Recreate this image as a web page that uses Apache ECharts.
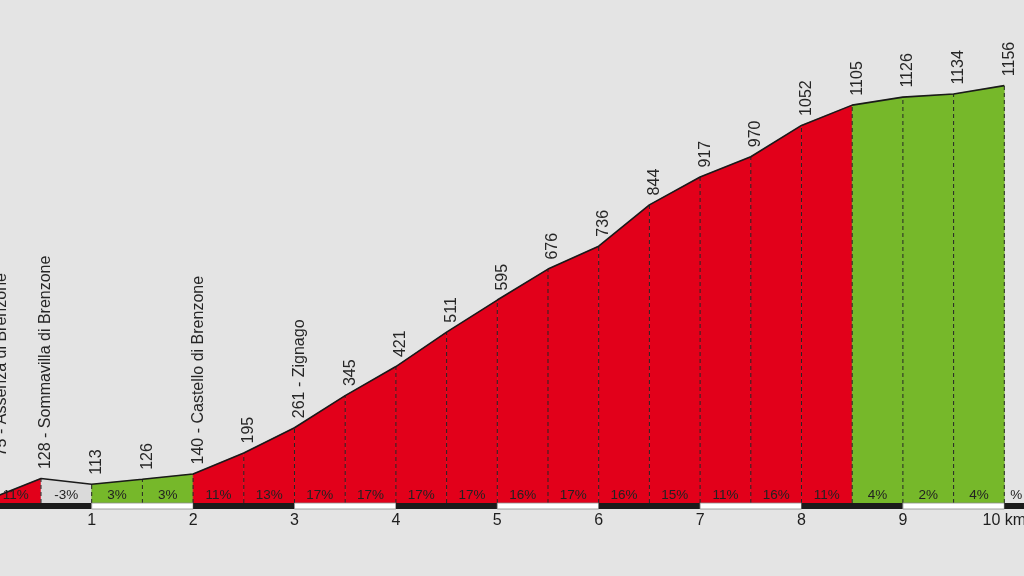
<!DOCTYPE html>
<html><head><meta charset="utf-8">
<script src="https://cdn.jsdelivr.net/npm/echarts@6/dist/echarts.min.js"></script>
<style>html,body{margin:0;padding:0;background:#e4e4e4;overflow:hidden}#c{width:1024px;height:576px}</style>
</head><body><div id="c"></div>
<script>
// ---- data ----
const distanceKm = [0,0.5,1,1.5,2,2.5,3,3.5,4,4.5,5,5.5,6,6.5,7,7.5,8,8.5,9,9.5,10];
const elevation  = [75,128,113,126,140,195,261,345,421,511,595,676,736,844,917,970,1052,1105,1126,1134,1156];
const placeNames = ['Assenza di Brenzone','Sommavilla di Brenzone','','','Castello di Brenzone','','Zignago','','','','','','','','','','','','','',''];
const gradient   = [11,-3,3,3,11,13,17,17,17,17,16,17,16,15,11,16,11,4,2,4];
const kmTicks    = [1,2,3,4,5,6,7,8,9,10];
const kmBlocks   = [0,1,2,3,4,5,6,7,8,9,10];
const baseElevation = 64;
const unitText = '%';

const FONT = "'Liberation Sans', Arial, Helvetica, sans-serif";
function fillFor(g){ return g < 0 ? '#dadada' : (g < 10 ? '#76b82a' : '#e2001a'); }

const segments = gradient.map((g,i)=>[distanceKm[i], distanceKm[i+1], elevation[i], elevation[i+1], g]);
const profile = distanceKm.map((d,i)=>{
  const item = {value:[d, elevation[i]], name: placeNames[i]};
  if (i === 0) { item.label = {distance: 42}; item.symbolOffset = [11, 0]; }
  return item;
});

const chart = echarts.init(document.getElementById('c'), null, {renderer:'canvas'});
chart.setOption({
  backgroundColor:'#e4e4e4',
  animation:false,
  grid:{left:0, right:0, top:30.6, bottom:73, containLabel:false, outerBoundsMode:'none'},
  xAxis:{type:'value', min:0.0957, max:10.1943,
    axisLine:{show:false}, axisTick:{show:false}, splitLine:{show:false},
    axisLabel:{customValues:kmTicks, margin:10, fontSize:16, color:'#1e1e1e', fontFamily:FONT,
      formatter:v=> v===10 ? '10 km' : String(v)}},
  yAxis:{type:'value', min:baseElevation, max:1300, show:false, splitLine:{show:false}},
  series:[
    {type:'custom', data:segments, encode:{x:[0,1], y:[2,3]}, z:1, silent:true, clip:false,
      renderItem:(p,api)=>{
        const x0=api.value(0), x1=api.value(1), e0=api.value(2), e1=api.value(3), g=api.value(4);
        const pts=[api.coord([x0,baseElevation]), api.coord([x0,e0]), api.coord([x1,e1]), api.coord([x1,baseElevation])];
        return {type:'polygon', shape:{points:pts}, style:{fill:fillFor(g), stroke:fillFor(g), lineWidth:0.5}};
      }},
    {type:'custom', data:segments, encode:{x:[0,1], y:[2,3]}, z:2, silent:true, clip:false,
      renderItem:(p,api)=>{
        const x0=api.value(0), x1=api.value(1), e1=api.value(3), g=api.value(4);
        const a=api.coord([x0,baseElevation]), b=api.coord([x1,baseElevation]), t=api.coord([x1,e1]);
        return {type:'group', children:[
          {type:'line', shape:{x1:b[0], y1:b[1], x2:t[0], y2:t[1]}, style:{stroke:'#262626', lineWidth:1, lineDash:[4,3]}},
          {type:'text', x:(a[0]+b[0])/2, y:a[1]-8, style:{text:g+'%', fill:'#222222', font:'13.5px '+FONT, align:'center', verticalAlign:'middle'}}
        ]};
      }},
    {type:'custom', data:kmBlocks, encode:{x:0}, z:3, silent:true, clip:false,
      renderItem:(p,api)=>{
        const k=api.value(0);
        const a=api.coord([k,baseElevation]), b=api.coord([k+1,baseElevation]);
        const even = k % 2 === 0;
        const children=[{type:'rect', shape:{x:a[0], y:a[1], width:b[0]-a[0], height:6},
          style: even ? {fill:'#1b1b1b'} : {fill:'#ffffff', stroke:'#8a8a8a', lineWidth:0.8}}];
        if (k === kmBlocks[kmBlocks.length-1]) {
          children.push({type:'text', x:a[0]+6, y:a[1]-8, style:{text:unitText, fill:'#222222', font:'13.5px '+FONT, align:'left', verticalAlign:'middle'}});
        }
        return {type:'group', children};
      }},
    {type:'line', data:profile, z:4, symbol:'circle', symbolSize:1, symbolOffset:[5,0], showSymbol:true, silent:true, clip:false,
      itemStyle:{color:'rgba(0,0,0,0)'},
      lineStyle:{color:'#1a1a1a', width:1.6},
      labelLayout:{hideOverlap:false},
      label:{show:true, position:'top', distance:9, rotate:90, align:'left', verticalAlign:'middle',
        fontSize:16, color:'#262626', fontFamily:FONT,
        formatter:p=> p.name ? p.value[1]+' - '+p.name : String(p.value[1])}}
  ]
});
</script></body></html>
